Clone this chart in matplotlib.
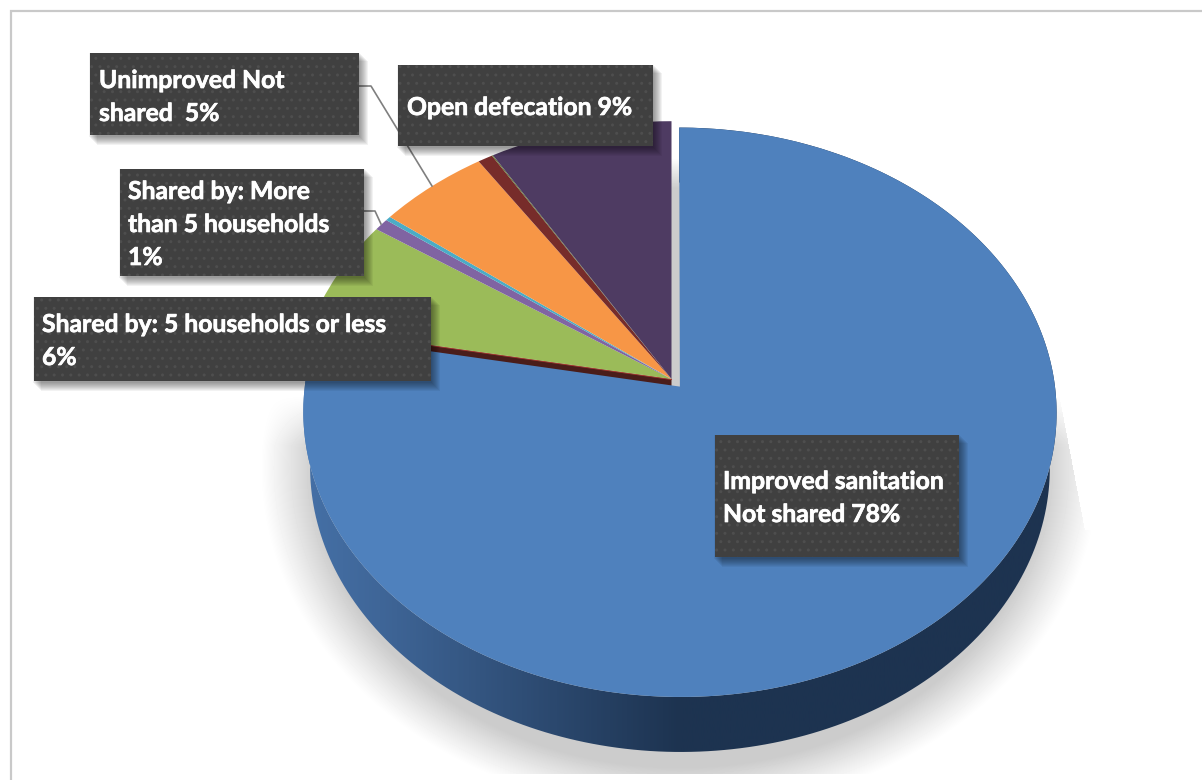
import numpy as np
import matplotlib
matplotlib.use("Agg")
import matplotlib.pyplot as plt
import matplotlib.patheffects as pe
from matplotlib.colors import LinearSegmentedColormap
from matplotlib.patches import Polygon, Rectangle
from matplotlib.transforms import Affine2D, Transform

# slices, clockwise from 12 o'clock
slice_values = [78, 6.5, 0.7, 0.25, 5.25, 0.7, 0.05, 8.6]
slice_colors = ["#4f81bd", "#9bbb59", "#8064a2", "#4bacc6", "#f79646", "#772c2a", "#5f7530", "#4e3b62"]
explode = [0.035, 0, 0, 0, 0, 0, 0, 0]

label_lines = [
    ["Unimproved Not", "shared  5%"],
    ["Shared by: More", "than 5 households", "1%"],
    ["Shared by: 5 households or less", "6%"],
    ["Open defecation 9%"],
    ["Improved sanitation", "Not shared 78%"],
]

W, H = 1202, 780
RX, SY, K = 374.2, 281.0, 0.09
APEX = (671.5, 379)
DEPTH = 55


class Perspective(Transform):
    input_dims = 2
    output_dims = 2
    has_inverse = False

    def transform_non_affine(self, xy):
        xy = np.asarray(xy, dtype=float)
        w = 1 + K * xy[:, 1]
        return np.column_stack([RX * xy[:, 0] / w, SY * xy[:, 1] / w])


def rim_points(wedge, n=240):
    t = np.radians(np.linspace(wedge.theta1, wedge.theta2, n))
    cx, cy = wedge.center
    return np.column_stack([cx + wedge.r * np.cos(t), cy + wedge.r * np.sin(t)])


fig = plt.figure(figsize=(W / 100, H / 100), dpi=100, facecolor="white")
ax = fig.add_axes([0, 0, 1, 1])

wedges, _ = ax.pie(slice_values, colors=slice_colors, startangle=90, counterclock=False,
                   explode=explode, radius=1, wedgeprops={"linewidth": 0})
ax.set_aspect("auto")

to_pixels = Perspective() + Affine2D().scale(1, -1).translate(*APEX)
for i, w in enumerate(wedges):
    w.set_transform(to_pixels + ax.transData)
    w.set_zorder(5 if i == 0 else 4)

# soft floor shadow, blended on white so it is opaque
xx, yy = np.meshgrid(np.arange(W) + 0.5, np.arange(H) + 0.5)
d = np.sqrt(((xx - 680) / 420) ** 2 + ((yy - 468) / 345) ** 2)
soft = np.clip((1.0 - d) / 0.13, 0, 1) ** 1.1
top_fade = np.clip((yy - 395) / 50, 0, 1)
gap = ((xx > 671) & (xx < 680)).astype(float) * np.clip((yy - 158) / 30, 0, 1)
shade = soft * np.maximum(top_fade, gap)
shade[yy > 774] = 0
# the shadow has a hard slanted edge on the upper right
shade[(xx > 1064 + (yy - 420) * 0.19) & (yy < 530)] = 0
grey = 1 - shade * (1 - 0.8)
ax.imshow(grey, cmap="gray", vmin=0, vmax=1, extent=(0, W, H, 0), aspect="auto", zorder=0.2,
          interpolation="nearest")

# side wall of the big slice
top_rim = to_pixels.transform(rim_points(wedges[0]))
bottom_rim = top_rim.copy()
bottom_rim[:, 0] = 680 + (bottom_rim[:, 0] - 680) * 0.982
bottom_rim[:, 1] += DEPTH
side = Polygon(np.vstack([top_rim, bottom_rim[::-1]]), closed=True, transform=ax.transData,
               facecolor="none", edgecolor="none")
ax.add_patch(side)
side_cmap = LinearSegmentedColormap.from_list(
    "side", [(0, "#4570a6"), (0.1, "#3f6698"), (0.5, "#1d3350"), (1, "#1d3350")])
im = ax.imshow(np.linspace(0, 1, 400).reshape(1, -1), cmap=side_cmap, extent=(303, 1057, 780, 0),
               aspect="auto", zorder=3, vmin=0, vmax=1)
im.set_clip_path(side)

# inner wall seen through the gap under the green slice
edge = to_pixels.transform(np.array([wedges[1].center, rim_points(wedges[1])[-1]]))
inner = np.vstack([edge, edge[::-1] + [0, 8]])
ax.add_patch(Polygon(inner, closed=True, facecolor="#4a1d1a", edgecolor="none", zorder=3.5))
ax.plot(edge[:, 0], edge[:, 1] + 0.5, color="#a83a34", lw=0.7, zorder=3.6)

# frame
ax.plot([10.5, 10.5, W], [H, 10.5, 10.5], color="#c9c9c9", lw=1.6, zorder=0.5, solid_joinstyle="miter")

# leader lines
ax.plot([359, 371, 432], [86, 86, 186], color="#7f7f7f", lw=1.2, zorder=6)
ax.plot([364, 375, 381], [211, 211, 224], color="#7f7f7f", lw=1.2, zorder=6)

# label boxes: left, top, right, bottom
boxes = [(90, 53, 359, 135), (120, 169, 364, 276), (34, 297, 431, 381), (398, 65, 653, 146), (715, 435, 959, 557)]
text_x = [99, 128, 42, 407, 723]
baselines = [[88, 121], [199, 232, 265], [332, 365], [115], [489, 522]]

for box, lines, tx, ys in zip(boxes, label_lines, text_x, baselines):
    x0, y0, x1, y1 = box
    for s in range(1, 10):
        ax.add_patch(Rectangle((x0 + s - 2, y0 + s - 1), x1 - x0 + 2, y1 - y0 + 2, facecolor="black",
                               edgecolor="none", alpha=0.05, zorder=7))
    ax.add_patch(Rectangle((x0, y0), x1 - x0, y1 - y0, facecolor="#404040", edgecolor="#4e4e4e",
                           hatch="..", linewidth=0, zorder=8))
    for line, y in zip(lines, ys):
        ax.text(tx, y, line, color="white", family="Lato", weight="bold", fontsize=17.8, va="baseline",
                ha="left", zorder=9, path_effects=[pe.withStroke(linewidth=0.5, foreground="white")])

ax.set_xlim(0, W)
ax.set_ylim(H, 0)
ax.axis("off")
fig.savefig("out.png", dpi=100)
